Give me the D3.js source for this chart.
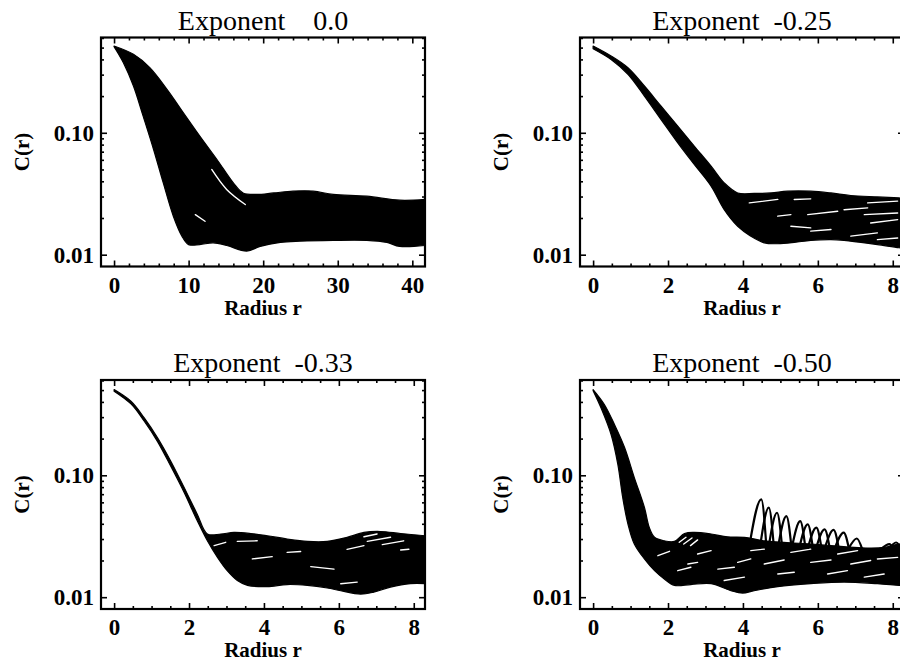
<!DOCTYPE html>
<html>
<head>
<meta charset="utf-8">
<script src="https://cdn.jsdelivr.net/npm/d3@7"></script>
<style>
  body { margin: 0; background: #fff; }
  text { font-family: "Liberation Serif", "Times New Roman", serif; }
</style>
</head>
<body>
<div id="chart"></div>
<script>
// titles and ticks
const titles = ["Exponent    0.0", "Exponent  -0.25", "Exponent  -0.33", "Exponent  -0.50"];
const xTicksWide = [0, 10, 20, 30, 40];
const xTicksNarrow = [0, 2, 4, 6, 8];
const yTicks = [0.01, 0.1];
const yTickLabels = ["0.01", "0.10"];
const yMinorTicks = [0.02, 0.03, 0.04, 0.05, 0.06, 0.07, 0.08, 0.09, 0.2, 0.3, 0.4, 0.5, 0.6];

// exponent 0.0 : envelope of the bundle of curves
const p1UpperR = [0, 2.6, 4.8, 7.1, 9.3, 11.5, 13.8, 16.0, 17.3, 19.1, 21.4, 24.0, 26.7, 29.4, 33.9, 38.3, 41.7];
const p1UpperC = [0.515, 0.44, 0.342, 0.227, 0.146, 0.094, 0.0604, 0.0388, 0.0321, 0.0312, 0.0321, 0.0332, 0.0332, 0.0312, 0.0302, 0.028, 0.0284];
const p1LowerR = [0, 1.25, 2.6, 3.9, 5.3, 6.6, 7.95, 9.1, 10.0, 11.5, 13.3, 15.1, 17.8, 19.6, 22.3, 24.9, 29.4, 33.9, 36.6, 38.3, 41.7];
const p1LowerC = [0.509, 0.376, 0.242, 0.137, 0.073, 0.0388, 0.0207, 0.0142, 0.0121, 0.0121, 0.0125, 0.0119, 0.0107, 0.0117, 0.0126, 0.0129, 0.0131, 0.0131, 0.0126, 0.0117, 0.0119];
const p1Streaks = [
  [[13.1, 0.050], [15.1, 0.0343], [17.6, 0.0258]],
  [[10.9, 0.0213], [12.2, 0.0188]]
];

// exponent -0.25
const p2UpperR = [0, 0.48, 0.93, 1.37, 1.81, 2.26, 2.70, 3.15, 3.50, 3.86, 4.30, 4.75, 5.19, 5.81, 6.35, 6.88, 7.59, 8.17, 8.4];
const p2UpperC = [0.515, 0.427, 0.342, 0.242, 0.166, 0.1135, 0.0778, 0.0532, 0.0388, 0.0321, 0.0318, 0.0321, 0.0332, 0.0332, 0.0321, 0.0306, 0.0298, 0.0292, 0.029];
const p2LowerR = [0, 0.48, 0.93, 1.37, 1.81, 2.26, 2.70, 3.15, 3.50, 3.86, 4.21, 4.57, 4.93, 5.37, 5.81, 6.35, 6.70, 7.15, 7.59, 8.17, 8.4];
const p2LowerC = [0.49, 0.40, 0.302, 0.20, 0.129, 0.0827, 0.055, 0.0365, 0.0234, 0.0171, 0.0142, 0.0125, 0.0123, 0.0126, 0.0131, 0.0133, 0.0131, 0.0126, 0.0121, 0.0114, 0.0112];
const p2Streaks = [
  [[4.17, 0.0266], [4.93, 0.0284]],
  [[5.73, 0.0213], [6.53, 0.0227]],
  [[6.70, 0.0234], [7.33, 0.0242]],
  [[7.41, 0.0182], [8.13, 0.0194]],
  [[5.28, 0.0171], [5.81, 0.0166]],
  [[6.88, 0.0142], [7.59, 0.0151]],
  [[4.93, 0.0207], [5.28, 0.0213]],
  [[5.81, 0.0156], [6.35, 0.0161]],
  [[7.33, 0.0266], [8.13, 0.0275]],
  [[7.24, 0.0213], [8.13, 0.022]],
  [[7.59, 0.0133], [8.13, 0.0137]],
  [[5.37, 0.0284], [5.81, 0.0287]]
];

// exponent -0.33
const p3UpperR = [0, 0.45, 0.80, 1.16, 1.51, 1.87, 2.22, 2.49, 2.85, 3.2, 3.65, 4.09, 4.62, 5.16, 5.69, 6.22, 6.67, 7.11, 7.65, 8.31];
const p3UpperC = [0.505, 0.405, 0.297, 0.203, 0.131, 0.0793, 0.048, 0.033, 0.033, 0.034, 0.0333, 0.0319, 0.030, 0.0287, 0.0287, 0.031, 0.034, 0.0346, 0.0333, 0.0319];
const p3LowerR = [0, 0.45, 0.80, 1.16, 1.51, 1.87, 2.22, 2.49, 2.76, 3.02, 3.29, 3.56, 4.09, 4.62, 5.16, 5.69, 6.05, 6.58, 6.93, 7.38, 7.91, 8.31];
const p3LowerC = [0.49, 0.385, 0.279, 0.189, 0.119, 0.0722, 0.0423, 0.029, 0.0212, 0.0165, 0.0137, 0.0125, 0.0122, 0.0127, 0.0125, 0.0119, 0.0113, 0.0106, 0.011, 0.0121, 0.0129, 0.0129];
const p3Streaks = [
  [[2.67, 0.0265], [2.98, 0.0282]],
  [[3.29, 0.0287], [3.82, 0.029]],
  [[3.69, 0.0206], [4.22, 0.0215]],
  [[5.25, 0.0178], [5.87, 0.0170]],
  [[6.05, 0.0129], [6.49, 0.0133]],
  [[6.67, 0.0313], [7.02, 0.033]],
  [[6.76, 0.0287], [7.38, 0.031]],
  [[7.16, 0.0270], [7.73, 0.029]],
  [[7.65, 0.0244], [7.87, 0.0247]],
  [[4.62, 0.0233], [4.98, 0.0237]],
  [[6.22, 0.0247], [6.67, 0.0265]]
];

// exponent -0.50
const p4UpperR = [0, 0.30, 0.57, 0.84, 1.10, 1.37, 1.50, 1.64, 1.90, 2.17, 2.44, 2.70, 3.15, 3.59, 4.04, 4.57, 5.81, 7.33, 7.77, 8.17, 8.4];
const p4UpperC = [0.505, 0.381, 0.261, 0.169, 0.0958, 0.0545, 0.0373, 0.031, 0.029, 0.0287, 0.0333, 0.034, 0.033, 0.0313, 0.031, 0.029, 0.0273, 0.0253, 0.0256, 0.0273, 0.027];
const p4LowerR = [0, 0.21, 0.48, 0.66, 0.79, 0.93, 1.10, 1.37, 1.64, 1.90, 2.17, 2.61, 3.15, 3.68, 3.99, 4.30, 4.93, 5.81, 6.70, 7.59, 8.17, 8.4];
const p4LowerC = [0.495, 0.358, 0.216, 0.123, 0.0658, 0.0398, 0.0273, 0.0206, 0.0165, 0.0141, 0.0125, 0.0127, 0.0129, 0.0113, 0.0108, 0.0113, 0.0122, 0.0129, 0.0133, 0.0129, 0.0125, 0.0124];
const p4Streaks = [
  [[1.73, 0.0219], [2.04, 0.0238]],
  [[2.26, 0.0165], [2.61, 0.0176]],
  [[2.53, 0.0187], [2.79, 0.0193]],
  [[2.79, 0.0226], [3.15, 0.0241]],
  [[3.33, 0.0170], [3.77, 0.0176]],
  [[3.50, 0.0137], [4.04, 0.0146]],
  [[3.86, 0.0193], [4.21, 0.0206]],
  [[4.21, 0.0241], [4.57, 0.0248]],
  [[4.57, 0.0187], [5.10, 0.0202]],
  [[4.93, 0.0155], [5.37, 0.0160]],
  [[5.28, 0.0233], [5.81, 0.0248]],
  [[5.81, 0.0193], [6.35, 0.0202]],
  [[6.26, 0.0155], [6.79, 0.0165]],
  [[6.53, 0.0226], [7.06, 0.0241]],
  [[6.88, 0.0187], [7.41, 0.0200]],
  [[7.24, 0.0146], [7.77, 0.0155]],
  [[7.59, 0.0206], [8.13, 0.0212]],
  [[2.30, 0.0282], [2.48, 0.031]],
  [[2.42, 0.0273], [2.64, 0.0306]],
  [[2.60, 0.0265], [2.79, 0.0295]]
];
// the single curves that stick out above the bundle
const p4SpikeStartR = [4.16, 4.45, 4.68, 4.93, 5.30, 5.50, 5.73, 5.95, 6.18, 6.45, 6.82, 7.70, 7.90];
const p4SpikePeakR = [4.49, 4.69, 4.91, 5.16, 5.53, 5.73, 5.96, 6.18, 6.42, 6.69, 7.04, 7.91, 8.09];
const p4SpikeEndR = [4.63, 4.83, 5.05, 5.30, 5.67, 5.87, 6.10, 6.32, 6.56, 6.83, 7.18, 8.02, 8.22];
const p4SpikePeakC = [0.0634, 0.0542, 0.0493, 0.0463, 0.0421, 0.0396, 0.0372, 0.036, 0.0356, 0.0339, 0.0303, 0.0272, 0.0281];
const p4SpikeBaseC = 0.025;

const W = 900, H = 663, pw = 324, ph = 229;

const zip = (rs, cs) => rs.map((r, i) => [r, cs[i]]);

const panels = [
  { left: 101, top: 37.5, xDomain: [-1.75, 41.7], xTicks: xTicksWide, minorStep: 2,
    upper: zip(p1UpperR, p1UpperC), lower: zip(p1LowerR, p1LowerC), streaks: p1Streaks, title: titles[0] },
  { left: 580, top: 37.5, xDomain: [-0.35, 8.3], xTicks: xTicksNarrow, minorStep: 0.5,
    upper: zip(p2UpperR, p2UpperC), lower: zip(p2LowerR, p2LowerC), streaks: p2Streaks, title: titles[1] },
  { left: 101, top: 380, xDomain: [-0.35, 8.3], xTicks: xTicksNarrow, minorStep: 0.5,
    upper: zip(p3UpperR, p3UpperC), lower: zip(p3LowerR, p3LowerC), streaks: p3Streaks, title: titles[2] },
  { left: 580, top: 380, xDomain: [-0.35, 8.3], xTicks: xTicksNarrow, minorStep: 0.5,
    upper: zip(p4UpperR, p4UpperC), lower: zip(p4LowerR, p4LowerC), streaks: p4Streaks, title: titles[3],
    spikes: p4SpikePeakR.map((p, i) => [[p4SpikeStartR[i], p4SpikeBaseC], [p, p4SpikePeakC[i]], [p4SpikeEndR[i], p4SpikeBaseC]]) }
];

const svg = d3.select("#chart").append("svg")
  .attr("width", W)
  .attr("height", H)
  .style("background", "#fff");

panels.forEach((p, k) => {
  const x = d3.scaleLinear().domain(p.xDomain).range([0, pw]);
  const y = d3.scaleLog().domain([0.008, 0.605]).range([ph, 0]);
  const g = svg.append("g").attr("transform", `translate(${p.left},${p.top})`);

  g.append("clipPath").attr("id", "clip" + k)
    .append("rect").attr("width", pw).attr("height", ph);

  const plot = g.append("g").attr("clip-path", `url(#clip${k})`);

  // band of curves: upper envelope then lower envelope back to the start
  const line = d3.line().x(d => x(d[0])).y(d => y(d[1])).curve(d3.curveCatmullRom.alpha(0.5));
  const up = line(p.upper);
  const down = line(p.lower.slice().reverse());
  plot.append("path")
    .attr("d", up + "L" + down.slice(1) + "Z")
    .attr("fill", "#000")
    .attr("stroke", "#000")
    .attr("stroke-width", 1.2)
    .attr("stroke-linejoin", "round");

  // gaps between the individual curves
  plot.selectAll(".streak").data(p.streaks).enter().append("path")
    .attr("class", "streak")
    .attr("d", line)
    .attr("fill", "none")
    .attr("stroke", "#fff")
    .attr("stroke-width", 1.4)
    .attr("stroke-linecap", "round");

  if (p.spikes) {
    const spikeLine = d3.line().x(d => x(d[0])).y(d => y(d[1])).curve(d3.curveMonotoneX);
    plot.selectAll(".spike").data(p.spikes).enter().append("path")
      .attr("class", "spike")
      .attr("d", spikeLine)
      .attr("fill", "none")
      .attr("stroke", "#000")
      .attr("stroke-width", 2.2);
  }

  // ticks on all four sides, pointing inward
  const minor = d3.range(0, p.xDomain[1], p.minorStep).filter(v => !p.xTicks.includes(v));
  const axes = [
    [d3.axisBottom(x).tickValues(p.xTicks).tickSizeInner(-6), ph],
    [d3.axisBottom(x).tickValues(minor).tickSizeInner(-3).tickFormat(""), ph],
    [d3.axisTop(x).tickValues(p.xTicks).tickSizeInner(-6).tickFormat(""), 0],
    [d3.axisTop(x).tickValues(minor).tickSizeInner(-3).tickFormat(""), 0]
  ];
  axes.forEach(([ax, ty]) => {
    const a = g.append("g").attr("transform", `translate(0,${ty})`).call(ax.tickSizeOuter(0));
    a.select(".domain").remove();
    a.selectAll("line").attr("stroke", "#000").attr("stroke-width", 1.6);
  });
  const yAxes = [
    [d3.axisLeft(y).tickValues(yTicks).tickSizeInner(-6).tickFormat((d, i) => yTickLabels[i]), 0],
    [d3.axisLeft(y).tickValues(yMinorTicks).tickSizeInner(-3).tickFormat(""), 0],
    [d3.axisRight(y).tickValues(yTicks).tickSizeInner(-6).tickFormat(""), pw],
    [d3.axisRight(y).tickValues(yMinorTicks).tickSizeInner(-3).tickFormat(""), pw]
  ];
  yAxes.forEach(([ax, tx]) => {
    const a = g.append("g").attr("transform", `translate(${tx},0)`).call(ax.tickSizeOuter(0));
    a.select(".domain").remove();
    a.selectAll("line").attr("stroke", "#000").attr("stroke-width", 1.6);
  });

  g.selectAll(".tick text")
    .attr("font-family", "Liberation Serif")
    .attr("font-weight", "bold")
    .attr("font-size", 23)
    .attr("fill", "#000");
  // x labels below the box
  g.selectAll("g").filter(function () { return this.getAttribute("transform") === `translate(0,${ph})`; })
    .selectAll(".tick text").attr("y", 26).attr("dy", null);
  // y labels left of the box
  g.selectAll("g").filter(function () { return this.getAttribute("transform") === "translate(0,0)"; })
    .selectAll(".tick text").attr("x", -7).attr("dy", "0.33em");

  // frame
  g.append("rect")
    .attr("width", pw).attr("height", ph)
    .attr("fill", "none").attr("stroke", "#000").attr("stroke-width", 2.2);

  g.append("text")
    .attr("x", pw / 2).attr("y", -8)
    .attr("text-anchor", "middle")
    .attr("font-size", 28)
    .style("white-space", "pre")
    .text(p.title);

  g.append("text")
    .attr("x", pw / 2).attr("y", ph + 48)
    .attr("text-anchor", "middle")
    .attr("font-size", 21)
    .attr("font-weight", "bold")
    .text("Radius r");

  g.append("text")
    .attr("transform", `translate(-72,${ph / 2}) rotate(-90)`)
    .attr("text-anchor", "middle")
    .attr("font-size", 21)
    .attr("font-weight", "bold")
    .text("C(r)");
});
</script>
</body>
</html>
